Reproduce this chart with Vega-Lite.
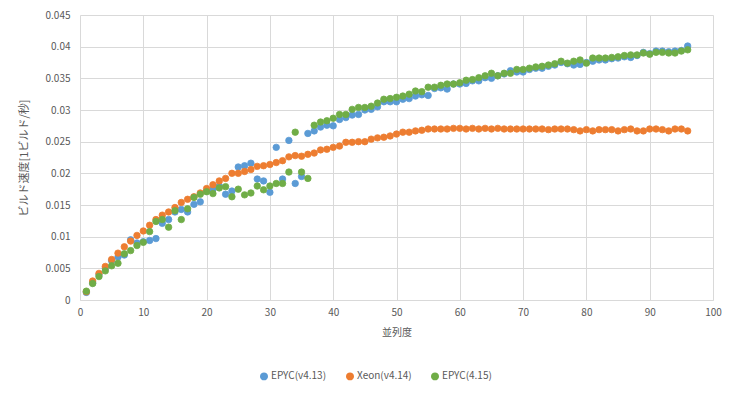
{
  "$schema": "https://vega.github.io/schema/vega-lite/v6.json",
  "width": 633,
  "height": 285,
  "autosize": {"type": "none"},
  "padding": {"left": 80, "top": 15, "right": 23, "bottom": 96},
  "background": "#ffffff",
  "config": {
    "view": {"stroke": null},
    "font": "Noto Sans CJK JP",
    "axis": {"labelColor": "#595959", "labelFontSize": 10, "titleColor": "#595959", "titleFontSize": 10, "titleFontWeight": "normal", "gridColor": "#d9d9d9", "ticks": false}
  },
  "data": {"values": [
{"x":1,"s":"EPYC(v4.13)","y":0.0012},{"x":2,"s":"EPYC(v4.13)","y":0.0027},{"x":3,"s":"EPYC(v4.13)","y":0.0040},{"x":4,"s":"EPYC(v4.13)","y":0.0050},{"x":5,"s":"EPYC(v4.13)","y":0.0062},{"x":6,"s":"EPYC(v4.13)","y":0.0068},{"x":7,"s":"EPYC(v4.13)","y":0.0071},{"x":8,"s":"EPYC(v4.13)","y":0.0095},{"x":9,"s":"EPYC(v4.13)","y":0.0090},{"x":10,"s":"EPYC(v4.13)","y":0.0092},
{"x":11,"s":"EPYC(v4.13)","y":0.0094},{"x":12,"s":"EPYC(v4.13)","y":0.0097},{"x":13,"s":"EPYC(v4.13)","y":0.0121},{"x":14,"s":"EPYC(v4.13)","y":0.0127},{"x":15,"s":"EPYC(v4.13)","y":0.0139},{"x":16,"s":"EPYC(v4.13)","y":0.0143},{"x":17,"s":"EPYC(v4.13)","y":0.0139},{"x":18,"s":"EPYC(v4.13)","y":0.0151},{"x":19,"s":"EPYC(v4.13)","y":0.0155},{"x":20,"s":"EPYC(v4.13)","y":0.0172},
{"x":21,"s":"EPYC(v4.13)","y":0.0175},{"x":22,"s":"EPYC(v4.13)","y":0.0180},{"x":23,"s":"EPYC(v4.13)","y":0.0167},{"x":24,"s":"EPYC(v4.13)","y":0.0172},{"x":25,"s":"EPYC(v4.13)","y":0.0210},{"x":26,"s":"EPYC(v4.13)","y":0.0212},{"x":27,"s":"EPYC(v4.13)","y":0.0216},{"x":28,"s":"EPYC(v4.13)","y":0.0191},{"x":29,"s":"EPYC(v4.13)","y":0.0188},{"x":30,"s":"EPYC(v4.13)","y":0.0170},
{"x":31,"s":"EPYC(v4.13)","y":0.0241},{"x":32,"s":"EPYC(v4.13)","y":0.0191},{"x":33,"s":"EPYC(v4.13)","y":0.0252},{"x":34,"s":"EPYC(v4.13)","y":0.0184},{"x":35,"s":"EPYC(v4.13)","y":0.0195},{"x":36,"s":"EPYC(v4.13)","y":0.0263},{"x":37,"s":"EPYC(v4.13)","y":0.0267},{"x":38,"s":"EPYC(v4.13)","y":0.0273},{"x":39,"s":"EPYC(v4.13)","y":0.0276},{"x":40,"s":"EPYC(v4.13)","y":0.0275},
{"x":41,"s":"EPYC(v4.13)","y":0.0285},{"x":42,"s":"EPYC(v4.13)","y":0.0288},{"x":43,"s":"EPYC(v4.13)","y":0.0292},{"x":44,"s":"EPYC(v4.13)","y":0.0293},{"x":45,"s":"EPYC(v4.13)","y":0.0300},{"x":46,"s":"EPYC(v4.13)","y":0.0301},{"x":47,"s":"EPYC(v4.13)","y":0.0305},{"x":48,"s":"EPYC(v4.13)","y":0.0313},{"x":49,"s":"EPYC(v4.13)","y":0.0313},{"x":50,"s":"EPYC(v4.13)","y":0.0313},
{"x":51,"s":"EPYC(v4.13)","y":0.0317},{"x":52,"s":"EPYC(v4.13)","y":0.0318},{"x":53,"s":"EPYC(v4.13)","y":0.0322},{"x":54,"s":"EPYC(v4.13)","y":0.0324},{"x":55,"s":"EPYC(v4.13)","y":0.0323},{"x":56,"s":"EPYC(v4.13)","y":0.0334},{"x":57,"s":"EPYC(v4.13)","y":0.0335},{"x":58,"s":"EPYC(v4.13)","y":0.0333},{"x":59,"s":"EPYC(v4.13)","y":0.0341},{"x":60,"s":"EPYC(v4.13)","y":0.0341},
{"x":61,"s":"EPYC(v4.13)","y":0.0342},{"x":62,"s":"EPYC(v4.13)","y":0.0346},{"x":63,"s":"EPYC(v4.13)","y":0.0346},{"x":64,"s":"EPYC(v4.13)","y":0.0351},{"x":65,"s":"EPYC(v4.13)","y":0.0350},{"x":66,"s":"EPYC(v4.13)","y":0.0354},{"x":67,"s":"EPYC(v4.13)","y":0.0357},{"x":68,"s":"EPYC(v4.13)","y":0.0362},{"x":69,"s":"EPYC(v4.13)","y":0.0360},{"x":70,"s":"EPYC(v4.13)","y":0.0360},
{"x":71,"s":"EPYC(v4.13)","y":0.0364},{"x":72,"s":"EPYC(v4.13)","y":0.0366},{"x":73,"s":"EPYC(v4.13)","y":0.0366},{"x":74,"s":"EPYC(v4.13)","y":0.0369},{"x":75,"s":"EPYC(v4.13)","y":0.0371},{"x":76,"s":"EPYC(v4.13)","y":0.0375},{"x":77,"s":"EPYC(v4.13)","y":0.0373},{"x":78,"s":"EPYC(v4.13)","y":0.0371},{"x":79,"s":"EPYC(v4.13)","y":0.0372},{"x":80,"s":"EPYC(v4.13)","y":0.0375},
{"x":81,"s":"EPYC(v4.13)","y":0.0377},{"x":82,"s":"EPYC(v4.13)","y":0.0379},{"x":83,"s":"EPYC(v4.13)","y":0.0379},{"x":84,"s":"EPYC(v4.13)","y":0.0381},{"x":85,"s":"EPYC(v4.13)","y":0.0382},{"x":86,"s":"EPYC(v4.13)","y":0.0384},{"x":87,"s":"EPYC(v4.13)","y":0.0383},{"x":88,"s":"EPYC(v4.13)","y":0.0386},{"x":89,"s":"EPYC(v4.13)","y":0.0391},{"x":90,"s":"EPYC(v4.13)","y":0.0389},
{"x":91,"s":"EPYC(v4.13)","y":0.0393},{"x":92,"s":"EPYC(v4.13)","y":0.0393},{"x":93,"s":"EPYC(v4.13)","y":0.0392},{"x":94,"s":"EPYC(v4.13)","y":0.0393},{"x":95,"s":"EPYC(v4.13)","y":0.0394},{"x":96,"s":"EPYC(v4.13)","y":0.0401},
{"x":1,"s":"Xeon(v4.14)","y":0.0013},{"x":2,"s":"Xeon(v4.14)","y":0.0030},{"x":3,"s":"Xeon(v4.14)","y":0.0042},{"x":4,"s":"Xeon(v4.14)","y":0.0053},{"x":5,"s":"Xeon(v4.14)","y":0.0064},{"x":6,"s":"Xeon(v4.14)","y":0.0074},{"x":7,"s":"Xeon(v4.14)","y":0.0084},{"x":8,"s":"Xeon(v4.14)","y":0.0093},{"x":9,"s":"Xeon(v4.14)","y":0.0102},{"x":10,"s":"Xeon(v4.14)","y":0.0109},
{"x":11,"s":"Xeon(v4.14)","y":0.0118},{"x":12,"s":"Xeon(v4.14)","y":0.0127},{"x":13,"s":"Xeon(v4.14)","y":0.0134},{"x":14,"s":"Xeon(v4.14)","y":0.0139},{"x":15,"s":"Xeon(v4.14)","y":0.0146},{"x":16,"s":"Xeon(v4.14)","y":0.0154},{"x":17,"s":"Xeon(v4.14)","y":0.0159},{"x":18,"s":"Xeon(v4.14)","y":0.0163},{"x":19,"s":"Xeon(v4.14)","y":0.0169},{"x":20,"s":"Xeon(v4.14)","y":0.0176},
{"x":21,"s":"Xeon(v4.14)","y":0.0182},{"x":22,"s":"Xeon(v4.14)","y":0.0188},{"x":23,"s":"Xeon(v4.14)","y":0.0192},{"x":24,"s":"Xeon(v4.14)","y":0.0200},{"x":25,"s":"Xeon(v4.14)","y":0.0200},{"x":26,"s":"Xeon(v4.14)","y":0.0203},{"x":27,"s":"Xeon(v4.14)","y":0.0206},{"x":28,"s":"Xeon(v4.14)","y":0.0211},{"x":29,"s":"Xeon(v4.14)","y":0.0212},{"x":30,"s":"Xeon(v4.14)","y":0.0214},
{"x":31,"s":"Xeon(v4.14)","y":0.0217},{"x":32,"s":"Xeon(v4.14)","y":0.0220},{"x":33,"s":"Xeon(v4.14)","y":0.0226},{"x":34,"s":"Xeon(v4.14)","y":0.0228},{"x":35,"s":"Xeon(v4.14)","y":0.0227},{"x":36,"s":"Xeon(v4.14)","y":0.0230},{"x":37,"s":"Xeon(v4.14)","y":0.0232},{"x":38,"s":"Xeon(v4.14)","y":0.0237},{"x":39,"s":"Xeon(v4.14)","y":0.0238},{"x":40,"s":"Xeon(v4.14)","y":0.0241},
{"x":41,"s":"Xeon(v4.14)","y":0.0243},{"x":42,"s":"Xeon(v4.14)","y":0.0249},{"x":43,"s":"Xeon(v4.14)","y":0.0249},{"x":44,"s":"Xeon(v4.14)","y":0.0250},{"x":45,"s":"Xeon(v4.14)","y":0.0250},{"x":46,"s":"Xeon(v4.14)","y":0.0254},{"x":47,"s":"Xeon(v4.14)","y":0.0256},{"x":48,"s":"Xeon(v4.14)","y":0.0257},{"x":49,"s":"Xeon(v4.14)","y":0.0259},{"x":50,"s":"Xeon(v4.14)","y":0.0262},
{"x":51,"s":"Xeon(v4.14)","y":0.0265},{"x":52,"s":"Xeon(v4.14)","y":0.0265},{"x":53,"s":"Xeon(v4.14)","y":0.0267},{"x":54,"s":"Xeon(v4.14)","y":0.0268},{"x":55,"s":"Xeon(v4.14)","y":0.0270},{"x":56,"s":"Xeon(v4.14)","y":0.0270},{"x":57,"s":"Xeon(v4.14)","y":0.0270},{"x":58,"s":"Xeon(v4.14)","y":0.0270},{"x":59,"s":"Xeon(v4.14)","y":0.0271},{"x":60,"s":"Xeon(v4.14)","y":0.0271},
{"x":61,"s":"Xeon(v4.14)","y":0.0270},{"x":62,"s":"Xeon(v4.14)","y":0.0271},{"x":63,"s":"Xeon(v4.14)","y":0.0270},{"x":64,"s":"Xeon(v4.14)","y":0.0271},{"x":65,"s":"Xeon(v4.14)","y":0.0270},{"x":66,"s":"Xeon(v4.14)","y":0.0271},{"x":67,"s":"Xeon(v4.14)","y":0.0270},{"x":68,"s":"Xeon(v4.14)","y":0.0270},{"x":69,"s":"Xeon(v4.14)","y":0.0270},{"x":70,"s":"Xeon(v4.14)","y":0.0270},
{"x":71,"s":"Xeon(v4.14)","y":0.0270},{"x":72,"s":"Xeon(v4.14)","y":0.0270},{"x":73,"s":"Xeon(v4.14)","y":0.0270},{"x":74,"s":"Xeon(v4.14)","y":0.0269},{"x":75,"s":"Xeon(v4.14)","y":0.0270},{"x":76,"s":"Xeon(v4.14)","y":0.0270},{"x":77,"s":"Xeon(v4.14)","y":0.0270},{"x":78,"s":"Xeon(v4.14)","y":0.0269},{"x":79,"s":"Xeon(v4.14)","y":0.0267},{"x":80,"s":"Xeon(v4.14)","y":0.0269},
{"x":81,"s":"Xeon(v4.14)","y":0.0267},{"x":82,"s":"Xeon(v4.14)","y":0.0269},{"x":83,"s":"Xeon(v4.14)","y":0.0269},{"x":84,"s":"Xeon(v4.14)","y":0.0269},{"x":85,"s":"Xeon(v4.14)","y":0.0267},{"x":86,"s":"Xeon(v4.14)","y":0.0269},{"x":87,"s":"Xeon(v4.14)","y":0.0270},{"x":88,"s":"Xeon(v4.14)","y":0.0267},{"x":89,"s":"Xeon(v4.14)","y":0.0267},{"x":90,"s":"Xeon(v4.14)","y":0.0270},
{"x":91,"s":"Xeon(v4.14)","y":0.0270},{"x":92,"s":"Xeon(v4.14)","y":0.0269},{"x":93,"s":"Xeon(v4.14)","y":0.0267},{"x":94,"s":"Xeon(v4.14)","y":0.0270},{"x":95,"s":"Xeon(v4.14)","y":0.0270},{"x":96,"s":"Xeon(v4.14)","y":0.0267},
{"x":1,"s":"EPYC(4.15)","y":0.0014},{"x":2,"s":"EPYC(4.15)","y":0.0026},{"x":3,"s":"EPYC(4.15)","y":0.0037},{"x":4,"s":"EPYC(4.15)","y":0.0046},{"x":5,"s":"EPYC(4.15)","y":0.0054},{"x":6,"s":"EPYC(4.15)","y":0.0058},{"x":7,"s":"EPYC(4.15)","y":0.0073},{"x":8,"s":"EPYC(4.15)","y":0.0078},{"x":9,"s":"EPYC(4.15)","y":0.0086},{"x":10,"s":"EPYC(4.15)","y":0.0091},
{"x":11,"s":"EPYC(4.15)","y":0.0108},{"x":12,"s":"EPYC(4.15)","y":0.0124},{"x":13,"s":"EPYC(4.15)","y":0.0127},{"x":14,"s":"EPYC(4.15)","y":0.0115},{"x":15,"s":"EPYC(4.15)","y":0.0141},{"x":16,"s":"EPYC(4.15)","y":0.0127},{"x":17,"s":"EPYC(4.15)","y":0.0144},{"x":18,"s":"EPYC(4.15)","y":0.0162},{"x":19,"s":"EPYC(4.15)","y":0.0167},{"x":20,"s":"EPYC(4.15)","y":0.0171},
{"x":21,"s":"EPYC(4.15)","y":0.0168},{"x":22,"s":"EPYC(4.15)","y":0.0177},{"x":23,"s":"EPYC(4.15)","y":0.0179},{"x":24,"s":"EPYC(4.15)","y":0.0163},{"x":25,"s":"EPYC(4.15)","y":0.0175},{"x":26,"s":"EPYC(4.15)","y":0.0166},{"x":27,"s":"EPYC(4.15)","y":0.0169},{"x":28,"s":"EPYC(4.15)","y":0.0180},{"x":29,"s":"EPYC(4.15)","y":0.0174},{"x":30,"s":"EPYC(4.15)","y":0.0180},
{"x":31,"s":"EPYC(4.15)","y":0.0184},{"x":32,"s":"EPYC(4.15)","y":0.0184},{"x":33,"s":"EPYC(4.15)","y":0.0202},{"x":34,"s":"EPYC(4.15)","y":0.0265},{"x":35,"s":"EPYC(4.15)","y":0.0202},{"x":36,"s":"EPYC(4.15)","y":0.0192},{"x":37,"s":"EPYC(4.15)","y":0.0276},{"x":38,"s":"EPYC(4.15)","y":0.0281},{"x":39,"s":"EPYC(4.15)","y":0.0283},{"x":40,"s":"EPYC(4.15)","y":0.0287},
{"x":41,"s":"EPYC(4.15)","y":0.0293},{"x":42,"s":"EPYC(4.15)","y":0.0293},{"x":43,"s":"EPYC(4.15)","y":0.0301},{"x":44,"s":"EPYC(4.15)","y":0.0304},{"x":45,"s":"EPYC(4.15)","y":0.0304},{"x":46,"s":"EPYC(4.15)","y":0.0306},{"x":47,"s":"EPYC(4.15)","y":0.0311},{"x":48,"s":"EPYC(4.15)","y":0.0317},{"x":49,"s":"EPYC(4.15)","y":0.0318},{"x":50,"s":"EPYC(4.15)","y":0.0320},
{"x":51,"s":"EPYC(4.15)","y":0.0322},{"x":52,"s":"EPYC(4.15)","y":0.0325},{"x":53,"s":"EPYC(4.15)","y":0.0330},{"x":54,"s":"EPYC(4.15)","y":0.0329},{"x":55,"s":"EPYC(4.15)","y":0.0336},{"x":56,"s":"EPYC(4.15)","y":0.0336},{"x":57,"s":"EPYC(4.15)","y":0.0339},{"x":58,"s":"EPYC(4.15)","y":0.0341},{"x":59,"s":"EPYC(4.15)","y":0.0341},{"x":60,"s":"EPYC(4.15)","y":0.0343},
{"x":61,"s":"EPYC(4.15)","y":0.0347},{"x":62,"s":"EPYC(4.15)","y":0.0348},{"x":63,"s":"EPYC(4.15)","y":0.0351},{"x":64,"s":"EPYC(4.15)","y":0.0354},{"x":65,"s":"EPYC(4.15)","y":0.0358},{"x":66,"s":"EPYC(4.15)","y":0.0354},{"x":67,"s":"EPYC(4.15)","y":0.0358},{"x":68,"s":"EPYC(4.15)","y":0.0358},{"x":69,"s":"EPYC(4.15)","y":0.0364},{"x":70,"s":"EPYC(4.15)","y":0.0364},
{"x":71,"s":"EPYC(4.15)","y":0.0366},{"x":72,"s":"EPYC(4.15)","y":0.0368},{"x":73,"s":"EPYC(4.15)","y":0.0369},{"x":74,"s":"EPYC(4.15)","y":0.0371},{"x":75,"s":"EPYC(4.15)","y":0.0373},{"x":76,"s":"EPYC(4.15)","y":0.0377},{"x":77,"s":"EPYC(4.15)","y":0.0374},{"x":78,"s":"EPYC(4.15)","y":0.0377},{"x":79,"s":"EPYC(4.15)","y":0.0379},{"x":80,"s":"EPYC(4.15)","y":0.0374},
{"x":81,"s":"EPYC(4.15)","y":0.0382},{"x":82,"s":"EPYC(4.15)","y":0.0382},{"x":83,"s":"EPYC(4.15)","y":0.0382},{"x":84,"s":"EPYC(4.15)","y":0.0383},{"x":85,"s":"EPYC(4.15)","y":0.0384},{"x":86,"s":"EPYC(4.15)","y":0.0386},{"x":87,"s":"EPYC(4.15)","y":0.0387},{"x":88,"s":"EPYC(4.15)","y":0.0387},{"x":89,"s":"EPYC(4.15)","y":0.0390},{"x":90,"s":"EPYC(4.15)","y":0.0388},
{"x":91,"s":"EPYC(4.15)","y":0.0391},{"x":92,"s":"EPYC(4.15)","y":0.0391},{"x":93,"s":"EPYC(4.15)","y":0.0390},{"x":94,"s":"EPYC(4.15)","y":0.0390},{"x":95,"s":"EPYC(4.15)","y":0.0393},{"x":96,"s":"EPYC(4.15)","y":0.0395}
  ]},
  "mark": {"type": "point", "shape": "circle", "filled": true, "size": 42, "opacity": 1, "strokeWidth": 0.8},
  "encoding": {
    "x": {"field": "x", "type": "quantitative", "scale": {"domain": [0, 100], "nice": false},
      "axis": {"title": "並列度", "values": [0,10,20,30,40,50,60,70,80,90,100], "labelPadding": 7, "titlePadding": 10, "domainColor": "#d9d9d9", "labelFlush": false}},
    "y": {"field": "y", "type": "quantitative", "scale": {"domain": [0, 0.045], "nice": false},
      "axis": {"title": "ビルド速度[1ビルド/秒]", "titleFontSize": 11, "values": [0,0.005,0.01,0.015,0.02,0.025,0.03,0.035,0.04,0.045], "format": "~g", "domain": false, "labelPadding": 10, "titlePadding": 16}},
    "color": {"field": "s", "type": "nominal", "scale": {"domain": ["EPYC(v4.13)", "Xeon(v4.14)", "EPYC(4.15)"], "range": ["#5B9BD5", "#ED7D31", "#70AD47"]},
      "legend": {"title": null, "orient": "none", "legendX": 179, "legendY": 356, "direction": "horizontal", "symbolType": "circle", "symbolSize": 42, "labelFontSize": 10, "labelColor": "#595959", "columnPadding": 16, "labelOffset": 2}},
    "stroke": {"field": "s", "type": "nominal", "scale": {"domain": ["EPYC(v4.13)", "Xeon(v4.14)", "EPYC(4.15)"], "range": ["#5B9BD5", "#ED7D31", "#70AD47"]}, "legend": null}
  }
}
